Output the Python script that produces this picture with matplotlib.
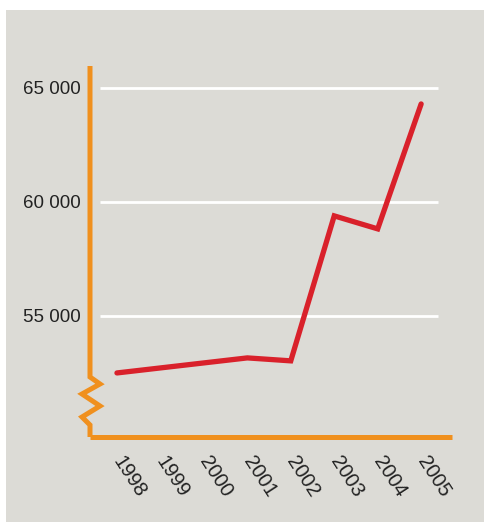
import matplotlib.pyplot as plt
from matplotlib.patches import Rectangle

years = [1998, 1999, 2000, 2001, 2002, 2003, 2004, 2005]
values = [52500, 52720, 52940, 53160, 53030, 59390, 58820, 64300]
yticks = [55000, 60000, 65000]
ytick_labels = ["55 000", "60 000", "65 000"]

bg = "#dcdbd6"
orange = "#f0901e"
red = "#d9212b"
plt.rcParams['font.family'] = ['Liberation Sans', 'DejaVu Sans']

fig = plt.figure(figsize=(4.84, 5.22), dpi=100)
fig.patches.append(Rectangle((6 / 484, 0), 1, 1 - 10 / 522, transform=fig.transFigure,
                             facecolor=bg, edgecolor='none', zorder=-10))

ax = fig.add_axes([90 / 484, 85 / 522, 362 / 484, 371 / 522])
ax.set_facecolor('none')
ax.set_xlim(1997.38, 2005.71)
ax.set_ylim(49690, 65965)

# white gridlines
ax.hlines(yticks, 1997.61, 2005.39, color='white', lw=2, zorder=1)

ax.plot(years, values, color=red, lw=3.8, solid_capstyle='round',
        solid_joinstyle='miter', zorder=3)

for s in ['top', 'right', 'left']:
    ax.spines[s].set_visible(False)
ax.spines['bottom'].set_color(orange)
ax.spines['bottom'].set_linewidth(3.6)
ax.spines['bottom'].set_capstyle('butt')

# left axis with zigzag break
h = 371.0
def yf(py):
    return (437 - py) / h
zx = [0, 0, 10 / 362, -8 / 362, 10 / 362, -8 / 362, 0, 0]
zy = [yf(66), yf(377), yf(384), yf(394), yf(406), yf(417), yf(425), yf(437)]
ax.plot(zx, zy, color=orange, lw=3.6, transform=ax.transAxes, clip_on=False,
        solid_joinstyle='miter', solid_capstyle='butt', zorder=4)

ax.set_yticks(yticks)
ax.set_yticklabels(ytick_labels, fontsize=13.5, color='#222222')
ax.tick_params(axis='y', length=0, pad=7)

ax.set_xticks(years)
ax.set_xticklabels([str(y) for y in years], rotation=-57, ha='left', va='center',
                   rotation_mode='anchor', fontsize=14.5, color='#222222')
ax.tick_params(axis='x', length=0, pad=15)

fig.savefig('out.png', dpi=100, facecolor='white')
